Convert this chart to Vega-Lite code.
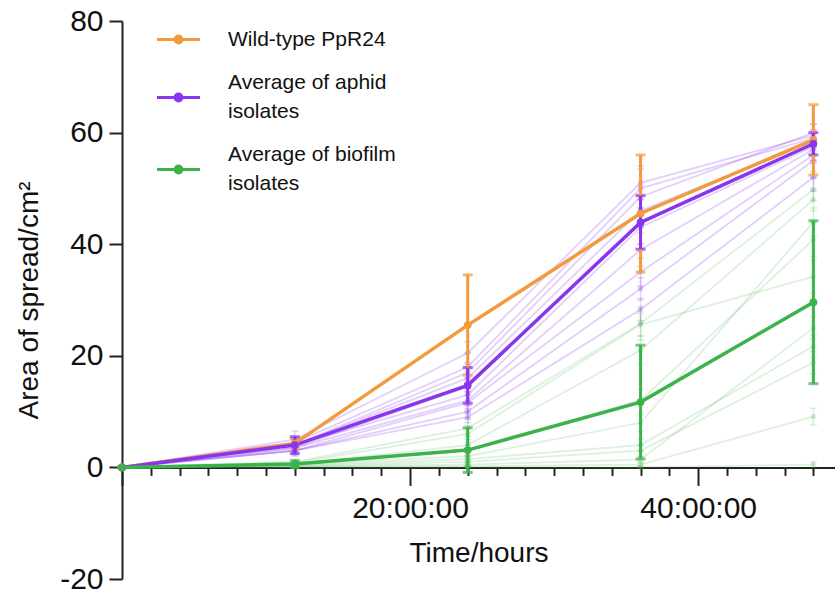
{
  "$schema": "https://vega.github.io/schema/vega-lite/v6.json",
  "autosize": {"type": "none"},
  "padding": {"left": 122, "top": 21, "right": 0, "bottom": 17},
  "width": 713,
  "height": 558,
  "background": "white",
  "config": {
    "view": {"stroke": null},
    "font": "Liberation Sans",
    "axis": {
      "grid": false,
      "domainColor": "#222222",
      "domainWidth": 2,
      "tickColor": "#222222",
      "tickWidth": 2,
      "labelColor": "#111111",
      "labelFont": "Liberation Sans",
      "labelFontSize": 30,
      "titleFont": "Liberation Sans",
      "titleFontSize": 28,
      "titleFontWeight": "normal",
      "titleColor": "#111111"
    },
    "legend": {
      "orient": "none",
      "legendX": 33,
      "legendY": -5,
      "padding": 0,
      "symbolType": "M-1,0L1,0M0.16,0A0.16,0.16,0,1,1,-0.16,0A0.16,0.16,0,1,1,0.16,0",
      "symbolSize": 1850,
      "symbolStrokeWidth": 3,
      "labelFont": "Liberation Sans",
      "labelFontSize": 21,
      "labelColor": "#111111",
      "labelOffset": 26,
      "labelLimit": 0,
      "rowPadding": 22
    }
  },
  "data": {
    "values": [
      {"series": "Wild-type PpR24", "group": "main", "t": 0, "y": 0, "err": 0},
      {"series": "Wild-type PpR24", "group": "main", "t": 12, "y": 4.3, "err": 0.9},
      {"series": "Wild-type PpR24", "group": "main", "t": 24, "y": 25.5, "err": 9.0},
      {"series": "Wild-type PpR24", "group": "main", "t": 36, "y": 45.5, "err": 10.5},
      {"series": "Wild-type PpR24", "group": "main", "t": 48, "y": 58.7, "err": 6.3},
      {"series": "Average of aphid isolates", "group": "main", "t": 0, "y": 0, "err": 0},
      {"series": "Average of aphid isolates", "group": "main", "t": 12, "y": 4.0, "err": 1.5},
      {"series": "Average of aphid isolates", "group": "main", "t": 24, "y": 14.7, "err": 3.2},
      {"series": "Average of aphid isolates", "group": "main", "t": 36, "y": 43.9, "err": 4.8},
      {"series": "Average of aphid isolates", "group": "main", "t": 48, "y": 58.0, "err": 2.0},
      {"series": "Average of biofilm isolates", "group": "main", "t": 0, "y": 0, "err": 0},
      {"series": "Average of biofilm isolates", "group": "main", "t": 12, "y": 0.6, "err": 0.6},
      {"series": "Average of biofilm isolates", "group": "main", "t": 24, "y": 3.1, "err": 4.0},
      {"series": "Average of biofilm isolates", "group": "main", "t": 36, "y": 11.7, "err": 10.2},
      {"series": "Average of biofilm isolates", "group": "main", "t": 48, "y": 29.6, "err": 14.6},

      {"series": "A1", "group": "aphid", "t": 0, "y": 0, "err": 0},
      {"series": "A1", "group": "aphid", "t": 12, "y": 5.0, "err": 1.5},
      {"series": "A1", "group": "aphid", "t": 24, "y": 20.5, "err": 2.0},
      {"series": "A1", "group": "aphid", "t": 36, "y": 51.0, "err": 3.0},
      {"series": "A1", "group": "aphid", "t": 48, "y": 59.5, "err": 2.0},
      {"series": "A2", "group": "aphid", "t": 0, "y": 0, "err": 0},
      {"series": "A2", "group": "aphid", "t": 12, "y": 4.5, "err": 1.0},
      {"series": "A2", "group": "aphid", "t": 24, "y": 18.0, "err": 2.5},
      {"series": "A2", "group": "aphid", "t": 36, "y": 50.0, "err": 3.5},
      {"series": "A2", "group": "aphid", "t": 48, "y": 59.0, "err": 1.5},
      {"series": "A3", "group": "aphid", "t": 0, "y": 0, "err": 0},
      {"series": "A3", "group": "aphid", "t": 12, "y": 4.0, "err": 1.2},
      {"series": "A3", "group": "aphid", "t": 24, "y": 17.0, "err": 1.8},
      {"series": "A3", "group": "aphid", "t": 36, "y": 48.5, "err": 2.0},
      {"series": "A3", "group": "aphid", "t": 48, "y": 60.0, "err": 1.5},
      {"series": "A4", "group": "aphid", "t": 0, "y": 0, "err": 0},
      {"series": "A4", "group": "aphid", "t": 12, "y": 4.0, "err": 0.8},
      {"series": "A4", "group": "aphid", "t": 24, "y": 16.0, "err": 2.0},
      {"series": "A4", "group": "aphid", "t": 36, "y": 46.0, "err": 3.0},
      {"series": "A4", "group": "aphid", "t": 48, "y": 58.5, "err": 2.0},
      {"series": "A5", "group": "aphid", "t": 0, "y": 0, "err": 0},
      {"series": "A5", "group": "aphid", "t": 12, "y": 3.5, "err": 1.0},
      {"series": "A5", "group": "aphid", "t": 24, "y": 14.5, "err": 1.5},
      {"series": "A5", "group": "aphid", "t": 36, "y": 44.0, "err": 4.0},
      {"series": "A5", "group": "aphid", "t": 48, "y": 58.0, "err": 1.0},
      {"series": "A6", "group": "aphid", "t": 0, "y": 0, "err": 0},
      {"series": "A6", "group": "aphid", "t": 12, "y": 4.0, "err": 1.0},
      {"series": "A6", "group": "aphid", "t": 24, "y": 13.0, "err": 2.0},
      {"series": "A6", "group": "aphid", "t": 36, "y": 43.0, "err": 3.0},
      {"series": "A6", "group": "aphid", "t": 48, "y": 57.5, "err": 2.5},
      {"series": "A7", "group": "aphid", "t": 0, "y": 0, "err": 0},
      {"series": "A7", "group": "aphid", "t": 12, "y": 3.5, "err": 1.0},
      {"series": "A7", "group": "aphid", "t": 24, "y": 12.0, "err": 1.5},
      {"series": "A7", "group": "aphid", "t": 36, "y": 39.0, "err": 3.0},
      {"series": "A7", "group": "aphid", "t": 48, "y": 57.0, "err": 2.0},
      {"series": "A8", "group": "aphid", "t": 0, "y": 0, "err": 0},
      {"series": "A8", "group": "aphid", "t": 12, "y": 3.0, "err": 0.8},
      {"series": "A8", "group": "aphid", "t": 24, "y": 11.6, "err": 2.0},
      {"series": "A8", "group": "aphid", "t": 36, "y": 35.0, "err": 2.5},
      {"series": "A8", "group": "aphid", "t": 48, "y": 56.0, "err": 3.0},
      {"series": "A9", "group": "aphid", "t": 0, "y": 0, "err": 0},
      {"series": "A9", "group": "aphid", "t": 12, "y": 3.0, "err": 1.0},
      {"series": "A9", "group": "aphid", "t": 24, "y": 10.0, "err": 1.2},
      {"series": "A9", "group": "aphid", "t": 36, "y": 32.0, "err": 2.0},
      {"series": "A9", "group": "aphid", "t": 48, "y": 55.0, "err": 3.0},
      {"series": "A10", "group": "aphid", "t": 0, "y": 0, "err": 0},
      {"series": "A10", "group": "aphid", "t": 12, "y": 3.0, "err": 0.7},
      {"series": "A10", "group": "aphid", "t": 24, "y": 9.0, "err": 1.0},
      {"series": "A10", "group": "aphid", "t": 36, "y": 28.3, "err": 2.0},
      {"series": "A10", "group": "aphid", "t": 48, "y": 52.0, "err": 2.5},

      {"series": "B1", "group": "biofilm", "t": 0, "y": 0, "err": 0},
      {"series": "B1", "group": "biofilm", "t": 12, "y": 1.0, "err": 0.5},
      {"series": "B1", "group": "biofilm", "t": 24, "y": 7.0, "err": 1.5},
      {"series": "B1", "group": "biofilm", "t": 36, "y": 25.8, "err": 3.0},
      {"series": "B1", "group": "biofilm", "t": 48, "y": 49.8, "err": 2.0},
      {"series": "B2", "group": "biofilm", "t": 0, "y": 0, "err": 0},
      {"series": "B2", "group": "biofilm", "t": 12, "y": 0.8, "err": 0.4},
      {"series": "B2", "group": "biofilm", "t": 24, "y": 6.0, "err": 1.5},
      {"series": "B2", "group": "biofilm", "t": 36, "y": 25.6, "err": 2.0},
      {"series": "B2", "group": "biofilm", "t": 48, "y": 34.2, "err": 3.0},
      {"series": "B3", "group": "biofilm", "t": 0, "y": 0, "err": 0},
      {"series": "B3", "group": "biofilm", "t": 12, "y": 0.6, "err": 0.3},
      {"series": "B3", "group": "biofilm", "t": 24, "y": 4.0, "err": 1.0},
      {"series": "B3", "group": "biofilm", "t": 36, "y": 21.0, "err": 2.5},
      {"series": "B3", "group": "biofilm", "t": 48, "y": 48.0, "err": 2.0},
      {"series": "B4", "group": "biofilm", "t": 0, "y": 0, "err": 0},
      {"series": "B4", "group": "biofilm", "t": 12, "y": 0.5, "err": 0.3},
      {"series": "B4", "group": "biofilm", "t": 24, "y": 3.0, "err": 1.0},
      {"series": "B4", "group": "biofilm", "t": 36, "y": 12.0, "err": 2.0},
      {"series": "B4", "group": "biofilm", "t": 48, "y": 40.8, "err": 3.0},
      {"series": "B5", "group": "biofilm", "t": 0, "y": 0, "err": 0},
      {"series": "B5", "group": "biofilm", "t": 12, "y": 0.6, "err": 0.4},
      {"series": "B5", "group": "biofilm", "t": 24, "y": 2.0, "err": 0.8},
      {"series": "B5", "group": "biofilm", "t": 36, "y": 8.0, "err": 1.5},
      {"series": "B5", "group": "biofilm", "t": 48, "y": 44.0, "err": 2.5},
      {"series": "B6", "group": "biofilm", "t": 0, "y": 0, "err": 0},
      {"series": "B6", "group": "biofilm", "t": 12, "y": 0.4, "err": 0.2},
      {"series": "B6", "group": "biofilm", "t": 24, "y": 1.5, "err": 0.6},
      {"series": "B6", "group": "biofilm", "t": 36, "y": 4.0, "err": 1.0},
      {"series": "B6", "group": "biofilm", "t": 48, "y": 21.7, "err": 2.0},
      {"series": "B7", "group": "biofilm", "t": 0, "y": 0, "err": 0},
      {"series": "B7", "group": "biofilm", "t": 12, "y": 0.3, "err": 0.2},
      {"series": "B7", "group": "biofilm", "t": 24, "y": 1.0, "err": 0.5},
      {"series": "B7", "group": "biofilm", "t": 36, "y": 3.0, "err": 1.0},
      {"series": "B7", "group": "biofilm", "t": 48, "y": 18.8, "err": 2.0},
      {"series": "B8", "group": "biofilm", "t": 0, "y": 0, "err": 0},
      {"series": "B8", "group": "biofilm", "t": 12, "y": 0.2, "err": 0.1},
      {"series": "B8", "group": "biofilm", "t": 24, "y": 0.5, "err": 0.3},
      {"series": "B8", "group": "biofilm", "t": 36, "y": 1.4, "err": 0.5},
      {"series": "B8", "group": "biofilm", "t": 48, "y": 25.0, "err": 2.0},
      {"series": "B9", "group": "biofilm", "t": 0, "y": 0, "err": 0},
      {"series": "B9", "group": "biofilm", "t": 12, "y": 0.1, "err": 0.1},
      {"series": "B9", "group": "biofilm", "t": 24, "y": 0.2, "err": 0.1},
      {"series": "B9", "group": "biofilm", "t": 36, "y": 0.5, "err": 0.3},
      {"series": "B9", "group": "biofilm", "t": 48, "y": 9.1, "err": 1.5},
      {"series": "B10", "group": "biofilm", "t": 0, "y": 0, "err": 0},
      {"series": "B10", "group": "biofilm", "t": 12, "y": 0, "err": 0},
      {"series": "B10", "group": "biofilm", "t": 24, "y": 0, "err": 0},
      {"series": "B10", "group": "biofilm", "t": 36, "y": 0, "err": 0},
      {"series": "B10", "group": "biofilm", "t": 48, "y": 0.5, "err": 0.5}
    ]
  },
  "encoding": {
    "x": {
      "field": "t",
      "type": "quantitative",
      "scale": {"domain": [0, 49.5], "nice": false, "zero": false},
      "axis": {
        "title": "Time/hours",
        "offset": -111.6,
        "values": [0, 2, 4, 6, 8, 10, 12, 14, 16, 18, 20, 22, 24, 26, 28, 30, 32, 34, 36, 38, 40, 42, 44, 46, 48],
        "labelExpr": "datum.value == 20 ? '20:00:00' : datum.value == 40 ? '40:00:00' : ''",
        "tickSize": {"condition": {"test": "datum.value % 20 == 0", "value": 18}, "value": 8},
        "labelPadding": 8,
        "titlePadding": 16,
        "labelFlush": false,
        "labelOverlap": false
      }
    },
    "y": {
      "field": "y",
      "type": "quantitative",
      "scale": {"domain": [-20, 80], "nice": false},
      "axis": {
        "title": "Area of spread/cm²",
        "values": [-20, 0, 20, 40, 60, 80],
        "labelExpr": "datum.value < 0 ? '-' + abs(datum.value) : datum.label",
        "tickSize": 13,
        "labelPadding": 6,
        "titlePadding": 16
      }
    }
  },
  "layer": [
    {
      "transform": [{"filter": "datum.group == 'biofilm'"}],
      "mark": {"type": "line", "color": "#3BB34A", "opacity": 0.18, "strokeWidth": 1.8},
      "encoding": {"detail": {"field": "series"}}
    },
    {
      "transform": [{"filter": "datum.group == 'biofilm'"}],
      "mark": {"type": "errorbar", "color": "#3BB34A", "opacity": 0.2, "ticks": true, "size": 7, "thickness": 1.5},
      "encoding": {"yError": {"field": "err"}, "detail": {"field": "series"}}
    },
    {
      "transform": [{"filter": "datum.group == 'biofilm'"}],
      "mark": {"type": "point", "filled": true, "color": "#3BB34A", "opacity": 0.22, "size": 30},
      "encoding": {"detail": {"field": "series"}}
    },
    {
      "transform": [{"filter": "datum.group == 'aphid'"}],
      "mark": {"type": "line", "color": "#8935EE", "opacity": 0.24, "strokeWidth": 1.8},
      "encoding": {"detail": {"field": "series"}}
    },
    {
      "transform": [{"filter": "datum.group == 'aphid'"}],
      "mark": {"type": "errorbar", "color": "#8935EE", "opacity": 0.22, "ticks": true, "size": 7, "thickness": 1.5},
      "encoding": {"yError": {"field": "err"}, "detail": {"field": "series"}}
    },
    {
      "transform": [{"filter": "datum.group == 'aphid'"}],
      "mark": {"type": "point", "filled": true, "color": "#8935EE", "opacity": 0.25, "size": 30},
      "encoding": {"detail": {"field": "series"}}
    },
    {
      "transform": [{"filter": "datum.group == 'main'"}],
      "mark": {"type": "errorbar", "ticks": true, "size": 10, "thickness": 3},
      "encoding": {
        "yError": {"field": "err"},
        "color": {
          "field": "series",
          "type": "nominal",
          "scale": {
            "domain": ["Wild-type PpR24", "Average of aphid isolates", "Average of biofilm isolates"],
            "range": ["#F39A3E", "#8935EE", "#3BB34A"]
          }
        }
      }
    },
    {
      "transform": [{"filter": "datum.group == 'main'"}],
      "mark": {"type": "line", "strokeWidth": 3.5, "point": {"filled": true, "size": 60}},
      "encoding": {
        "color": {
          "field": "series",
          "type": "nominal",
          "scale": {
            "domain": ["Wild-type PpR24", "Average of aphid isolates", "Average of biofilm isolates"],
            "range": ["#F39A3E", "#8935EE", "#3BB34A"]
          },
          "legend": {
            "title": null,
            "labelExpr": "datum.label == 'Average of aphid isolates' ? ['Average of aphid', 'isolates'] : datum.label == 'Average of biofilm isolates' ? ['Average of biofilm', 'isolates'] : datum.label",
            "encode": {
              "symbols": {"update": {"fill": {"scale": "color", "field": "value"}, "opacity": {"value": 1}}},
              "labels": {
                "update": {
                  "lineHeight": {"value": 29},
                  "dy": {"signal": "indexof(datum.label, 'Average') == 0 ? -14.5 : 0"}
                }
              }
            }
          }
        },
        "order": {"field": "t"}
      }
    }
  ]
}
